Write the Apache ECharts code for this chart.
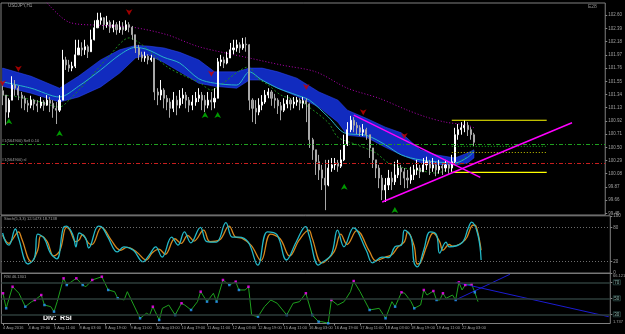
<!DOCTYPE html>
<html lang="en">

<head>
    <meta charset="UTF-8">
    <title>USDJPY,H1</title>
    <script src="https://cdn.jsdelivr.net/npm/echarts@6/dist/echarts.min.js"></script>
    <style>
        body { margin: 0; background: #000; }
        #main { width: 625px; height: 334px; }
    </style>
</head>

<body>
    <div id="main"></div>

    <script type="text/javascript">
        // time axis, one label every 8 bars (2h bars)
        var timeLabels = ['4 Aug 2016', '4 Aug 19:00', '5 Aug 11:00', '8 Aug 03:00', '8 Aug 19:00', '9 Aug 11:00',
            '10 Aug 03:00', '10 Aug 19:00', '11 Aug 11:00', '12 Aug 03:00', '12 Aug 19:00', '15 Aug 11:00',
            '16 Aug 03:00', '16 Aug 19:00', '17 Aug 11:00', '18 Aug 03:00', '18 Aug 19:00', '19 Aug 11:00', '22 Aug 03:00'];
        var barsPerLabel = 8;
        var slotCount = 191;

        var priceTicks = [99.45, 99.66, 99.87, 100.08, 100.29, 100.50, 100.71, 100.92, 101.13, 101.34,
            101.55, 101.76, 101.97, 102.18, 102.39, 102.60];

        var closes = [101.33, 101.06, 101.25, 101.49, 101.44, 101.33, 101.28, 101.20, 101.17, 101.25,
            101.19, 101.16, 101.22, 101.17, 101.25, 101.20, 101.12, 101.09, 101.25, 101.89,
            101.81, 101.76, 101.79, 101.97, 102.08, 102.05, 102.10, 102.02, 102.21, 102.40,
            102.52, 102.56, 102.45, 102.49, 102.40, 102.45, 102.37, 102.41, 102.37, 102.45,
            102.41, 102.29, 102.08, 101.97, 101.92, 101.95, 101.89, 101.92, 101.38, 101.33,
            101.41, 101.28, 101.22, 101.12, 101.25, 101.17, 101.28, 101.33, 101.25, 101.17,
            101.22, 101.28, 101.33, 101.25, 101.17, 101.25, 101.22, 101.28, 101.86, 101.89,
            101.84, 101.92, 102.05, 102.08, 102.13, 102.08, 102.14, 102.13, 101.25, 101.12,
            101.06, 101.17, 101.22, 101.33, 101.38, 101.28, 101.25, 101.16, 101.09, 101.19,
            101.25, 101.19, 101.22, 101.25, 101.20, 101.24, 101.19, 100.62, 100.46, 100.27,
            100.14, 100.01, 99.90, 100.17, 100.22, 100.25, 100.20, 100.30, 100.54, 100.78,
            100.93, 100.85, 100.81, 100.74, 100.78, 100.70, 100.49, 100.30, 100.17, 100.01,
            99.82, 99.90, 100.01, 99.95, 100.06, 100.17, 100.11, 100.01, 99.98, 100.06,
            100.14, 100.17, 100.11, 100.22, 100.27, 100.17, 100.22, 100.14, 100.20, 100.17,
            100.22, 100.17, 100.27, 100.70, 100.78, 100.81, 100.85, 100.78, 100.70, 100.58];
        var highs = [101.48, 101.33, 101.28, 101.63, 101.57, 101.48, 101.38, 101.32, 101.25, 101.32,
            101.27, 101.25, 101.30, 101.25, 101.33, 101.30, 101.25, 101.22, 101.33, 102.05,
            101.94, 101.89, 101.86, 102.21, 102.21, 102.17, 102.21, 102.13, 102.37, 102.52,
            102.64, 102.64, 102.57, 102.59, 102.52, 102.52, 102.49, 102.51, 102.49, 102.52,
            102.49, 102.43, 102.29, 102.13, 102.02, 102.02, 101.98, 101.97, 101.92, 101.44,
            101.57, 101.44, 101.33, 101.28, 101.38, 101.32, 101.41, 101.44, 101.38, 101.30,
            101.33, 101.38, 101.44, 101.38, 101.33, 101.38, 101.38, 101.44, 101.92, 101.97,
            101.94, 102.02, 102.16, 102.21, 102.21, 102.17, 102.24, 102.25, 102.14, 101.28,
            101.25, 101.28, 101.33, 101.41, 101.44, 101.41, 101.35, 101.28, 101.22, 101.28,
            101.33, 101.28, 101.30, 101.30, 101.28, 101.30, 101.28, 101.20, 100.65, 100.46,
            100.38, 100.22, 100.30, 100.30, 100.33, 100.33, 100.30, 100.46, 100.70, 100.90,
            101.00, 100.98, 100.90, 100.85, 100.87, 100.81, 100.70, 100.49, 100.30, 100.22,
            100.06, 100.01, 100.14, 100.11, 100.27, 100.30, 100.22, 100.17, 100.14, 100.19,
            100.22, 100.30, 100.22, 100.33, 100.35, 100.30, 100.33, 100.27, 100.30, 100.25,
            100.30, 100.25, 100.38, 100.81, 100.87, 100.90, 100.93, 100.90, 100.82, 100.73];
        var lows = [101.17, 100.85, 100.97, 101.25, 101.32, 101.25, 101.12, 101.09, 101.06, 101.12,
            101.09, 101.06, 101.12, 101.08, 101.16, 101.06, 100.97, 100.87, 101.06, 101.25,
            101.73, 101.70, 101.71, 101.76, 101.97, 101.95, 101.97, 101.92, 102.02, 102.20,
            102.40, 102.45, 102.37, 102.40, 102.32, 102.33, 102.29, 102.32, 102.29, 102.35,
            102.33, 102.21, 102.00, 101.89, 101.86, 101.86, 101.82, 101.86, 101.25, 101.17,
            101.25, 101.12, 101.09, 100.97, 101.06, 101.01, 101.12, 101.19, 101.12, 101.06,
            101.09, 101.16, 101.22, 101.09, 101.06, 101.12, 101.09, 101.12, 101.28, 101.79,
            101.76, 101.82, 101.92, 101.98, 102.02, 102.00, 102.05, 102.02, 101.09, 100.90,
            100.87, 101.01, 101.09, 101.19, 101.28, 101.16, 101.12, 101.03, 100.93, 101.06,
            101.12, 101.09, 101.12, 101.16, 101.09, 101.12, 100.90, 100.49, 100.30, 100.06,
            99.98, 99.82, 99.50, 99.88, 100.11, 100.14, 100.11, 100.17, 100.28, 100.52,
            100.74, 100.74, 100.71, 100.68, 100.68, 100.62, 100.33, 100.17, 100.01, 99.85,
            99.66, 99.63, 99.82, 99.82, 99.90, 100.01, 99.90, 99.85, 99.85, 99.92,
            99.98, 100.06, 100.01, 100.11, 100.14, 100.06, 100.11, 100.04, 100.08, 100.06,
            100.11, 100.08, 100.11, 100.22, 100.62, 100.70, 100.74, 100.68, 100.62, 100.52];
        var firstOpen = 101.40;

        // indicator lines on the price pane: [bar, price]
        var slowMa = [[14, 102.80], [21, 102.49], [31, 102.44], [41, 102.41], [52, 102.29], [62, 102.10],
            [78, 101.92], [88, 101.81], [99, 101.70], [109, 101.44], [119, 101.28], [128, 101.09],
            [134, 100.98], [140, 100.90], [147, 100.85], [149, 100.81]];
        var greenMa = [[0, 101.33], [5, 101.30], [12, 101.22], [18, 101.14], [21, 101.25], [27, 101.57],
            [34, 101.97], [40, 102.24], [43, 102.17], [46, 102.05], [52, 101.78], [59, 101.60], [62, 101.54],
            [66, 101.41], [68, 101.46], [78, 101.78], [80, 101.62], [84, 101.49], [88, 101.33], [93, 101.25],
            [96, 101.17], [103, 100.89], [106, 100.66], [112, 100.54], [118, 100.41], [122, 100.25],
            [127, 100.17], [131, 100.14], [137, 100.09], [143, 100.22], [149, 100.46]];
        var cyanLine = [[0, 101.54], [9, 101.44], [18, 101.30], [24, 101.47], [31, 101.73], [37, 101.97],
            [42, 102.09], [46, 102.05], [51, 101.93], [56, 101.84], [62, 101.59], [67, 101.52], [74, 101.49],
            [78, 101.70], [82, 101.57], [87, 101.44], [93, 101.33], [97, 101.25], [103, 100.98], [108, 100.73],
            [115, 100.69], [121, 100.54], [126, 100.38], [132, 100.30], [143, 100.25], [147, 100.34], [149, 100.43]];
        var bandTop = [[0, 101.76], [9, 101.63], [18, 101.44], [24, 101.63], [31, 101.89], [37, 102.05],
            [42, 102.12], [46, 102.11], [51, 102.08], [56, 102.01], [62, 101.89], [67, 101.70], [74, 101.70],
            [78, 101.76], [82, 101.76], [87, 101.70], [93, 101.60], [100, 101.38], [106, 101.25], [109, 101.09],
            [115, 100.96], [121, 100.82], [126, 100.73], [132, 100.46], [137, 100.38], [143, 100.33],
            [147, 100.41], [149, 100.46]];
        var bandBottom = [[0, 101.47], [9, 101.36], [18, 101.22], [24, 101.30], [31, 101.46], [37, 101.68],
            [42, 101.92], [46, 101.97], [51, 101.85], [56, 101.70], [62, 101.52], [67, 101.47], [74, 101.44],
            [78, 101.57], [82, 101.57], [87, 101.44], [93, 101.31], [100, 101.14], [106, 100.90], [109, 100.69],
            [115, 100.66], [121, 100.50], [126, 100.38], [132, 100.26], [137, 100.23], [143, 100.22],
            [147, 100.25], [149, 100.33]];

        var sellSignals = [[0, 101.47], [5, 101.70], [40, 102.60], [66, 101.62], [96, 101.41], [114, 101.01], [127, 100.63]];
        var buySignals = [[2, 100.96], [18, 100.77], [64, 101.06], [68, 101.06], [108, 99.92], [124, 99.55]];

        // objects drawn on the chart
        var sellPrice = 100.55, slPrice = 100.25, bidPrice = 100.52;
        var fibHigh = 100.93, fibLow = 100.10, fibFrom = 142, fibTo = 172;
        var fibLevels = [0, 50, 61.8, 100];
        var upperTrend = [[111, 101.01], [151, 100.02]];
        var lowerTrend = [[120, 99.63], [180, 100.89]];

        // stochastic
        var stochMain = [[0, 70], [1, 54], [2, 49], [4, 77], [5, 61], [8, 16], [10, 27], [11, 68], [13, 61], [15, 35],
            [17, 25], [19, 79], [20, 82], [22, 67], [23, 46], [24, 70], [26, 61], [27, 44], [30, 82], [31, 81],
            [33, 63], [36, 37], [38, 46], [41, 40], [44, 20], [46, 32], [48, 46], [50, 28], [53, 63], [55, 49],
            [57, 72], [59, 53], [62, 80], [64, 55], [67, 54], [70, 88], [72, 63], [74, 63], [77, 54], [80, 14],
            [83, 72], [86, 67], [89, 23], [92, 54], [95, 81], [96, 67], [99, 14], [100, 18], [103, 32], [105, 75],
            [107, 46], [110, 79], [114, 40], [116, 18], [119, 28], [121, 27], [123, 46], [125, 49], [126, 75],
            [128, 63], [129, 18], [130, 11], [132, 40], [134, 72], [136, 67], [137, 35], [139, 54], [140, 46],
            [144, 53], [146, 79], [147, 89], [149, 67], [150, 23]];
        var stochSignal = [[0, 66], [2, 52], [3, 58], [5, 72], [6, 60], [9, 20], [11, 40], [12, 65], [14, 55], [16, 30],
            [18, 40], [20, 80], [21, 76], [23, 55], [24, 58], [25, 67], [27, 52], [28, 50], [31, 80], [32, 76],
            [34, 58], [37, 40], [39, 45], [42, 37], [45, 23], [47, 36], [49, 42], [51, 33], [54, 60], [56, 52],
            [58, 66], [60, 56], [63, 75], [65, 55], [68, 58], [71, 82], [73, 63], [75, 61], [78, 48], [81, 22],
            [84, 68], [87, 60], [90, 30], [93, 58], [96, 75], [97, 62], [100, 18], [101, 20], [104, 38], [106, 68],
            [108, 50], [111, 74], [115, 38], [117, 22], [120, 28], [122, 32], [124, 46], [126, 55], [127, 72],
            [129, 48], [130, 16], [131, 18], [133, 48], [135, 70], [137, 55], [138, 40], [140, 50], [141, 47],
            [145, 58], [147, 82], [148, 84], [149, 70], [150, 40]];
        var stochLevels = [80, 20];

        // RSI
        var rsi = [[0, 56.3], [1, 37.5], [3, 64.5], [5, 56.3], [7, 39.5], [9, 45.8], [10, 47.9], [12, 54.1], [13, 41.6],
            [15, 39.5], [16, 33.3], [17, 45.8], [19, 75], [20, 66.6], [23, 75], [25, 66.6], [26, 64.5], [28, 72.9],
            [31, 77], [33, 60.4], [35, 58.3], [36, 50], [38, 47.9], [39, 58.3], [41, 41.6], [43, 25], [45, 31.3],
            [46, 29.1], [47, 39.5], [49, 22.9], [50, 37.5], [52, 41.6], [54, 29.1], [56, 43.8], [57, 41.6],
            [59, 35.4], [61, 45.8], [62, 58.3], [64, 45.8], [66, 56.3], [67, 45.8], [69, 72.9], [71, 66.6],
            [73, 70.8], [74, 60.4], [76, 60.4], [77, 64.5], [78, 29.1], [80, 27], [82, 39.5], [84, 47.9],
            [86, 43.8], [89, 29.1], [91, 43.8], [93, 45.8], [95, 56.3], [97, 29.1], [99, 20.8], [100, 20.8],
            [102, 18.8], [103, 47.9], [105, 41.6], [107, 45.8], [109, 58.3], [110, 71.6], [112, 58.3],
            [115, 35.4], [118, 37.5], [120, 25], [122, 45.8], [123, 39.5], [125, 57.5], [126, 56.3],
            [128, 45.8], [129, 37.5], [131, 41.6], [132, 60.4], [133, 54.1], [135, 59.1], [136, 47.9],
            [137, 47.9], [138, 56.3], [139, 50], [141, 54.1], [142, 47.9], [143, 70], [144, 60.4],
            [145, 66.6], [147, 67.5], [148, 57.5], [149, 45.8]];
        var rsiPeaks = [0, 3, 10, 12, 19, 23, 28, 31, 47, 56, 62, 69, 73, 77, 95, 103, 110, 125, 132, 135, 138, 143, 145, 147];
        var rsiTroughs = [1, 7, 13, 16, 20, 25, 33, 36, 43, 49, 54, 59, 64, 67, 71, 74, 80, 89, 97, 99, 102, 115, 120, 123, 129, 136, 142, 148];
        var rsiLevels = [70, 50, 30];
        var rsiTrendDown = [[142, 70], [190, 27]];
        var rsiTrendUp = [[142, 48], [159, 80]];

        // ---- build chart data ----
        var cats = [];
        for (var i = 0; i < slotCount; i++) cats.push(String(i));

        var candles = [];
        for (var i = 0; i < closes.length; i++) {
            var o = i === 0 ? firstOpen : closes[i - 1];
            candles.push([o, closes[i], lows[i], highs[i]]);
        }

        var rsiMap = {};
        rsi.forEach(function (p) { rsiMap[p[0]] = p[1]; });
        var peakDots = rsiPeaks.map(function (k) { return [k, rsiMap[k]]; });
        var troughDots = rsiTroughs.map(function (k) { return [k, rsiMap[k]]; });

        var txt = '#a0a0a0';
        var font = 'Liberation Sans';

        function showTick(idx) {
            return idx % barsPerLabel === 0 && idx / barsPerLabel < timeLabels.length;
        }

        function xAx(g, withLabels) {
            return {
                type: 'category', gridIndex: g, data: cats, boundaryGap: true,
                axisLine: { show: false },
                axisTick: { show: withLabels, interval: showTick, length: 2, alignWithLabel: true, lineStyle: { color: '#888' } },
                axisLabel: {
                    show: withLabels, interval: showTick, align: 'left', fontSize: 4, color: txt, margin: 2, fontFamily: font,
                    formatter: function (v, idx) { return timeLabels[idx / barsPerLabel] || ''; }
                },
                splitLine: { show: false }
            };
        }

        var gridStyle = { show: true, borderColor: '#808080', borderWidth: 1, backgroundColor: 'transparent' };

        var series = [];

        // blue band
        series.push({
            type: 'custom', xAxisIndex: 0, yAxisIndex: 0, z: 1, silent: true,
            data: [[0, 101]],
            renderItem: function (params, api) {
                var up = bandTop.map(function (p) { return api.coord(p); });
                var dn = bandBottom.map(function (p) { return api.coord(p); }).reverse();
                return {
                    type: 'polygon', shape: { points: up.concat(dn) },
                    style: { fill: '#1432e0', opacity: 0.85, stroke: '#2f4cff', lineWidth: 0.6 }
                };
            }
        });

        series.push({
            type: 'line', data: slowMa, xAxisIndex: 0, yAxisIndex: 0, symbol: 'none', smooth: 0.3, z: 2,
            lineStyle: { color: '#b400b4', width: 1, type: [1, 2] }
        });
        series.push({
            type: 'line', data: greenMa, xAxisIndex: 0, yAxisIndex: 0, symbol: 'none', smooth: 0.3, z: 2,
            lineStyle: { color: '#1e8c1e', width: 1, type: [2, 2] }
        });
        series.push({
            type: 'line', data: cyanLine, xAxisIndex: 0, yAxisIndex: 0, symbol: 'none', smooth: 0.3, z: 2,
            lineStyle: { color: '#28b4c8', width: 1 }
        });

        series.push({
            type: 'candlestick', data: candles, xAxisIndex: 0, yAxisIndex: 0, z: 3, barMaxWidth: 2,
            itemStyle: { color: '#ffffff', color0: '#8c8c8c', borderColor: '#ffffff', borderColor0: '#a8a8a8', borderWidth: 1 },
            markLine: {
                silent: true, symbol: ['none', 'none'], animation: false,
                label: { fontSize: 4, color: txt, fontFamily: font, distance: 1 },
                data: [
                    { yAxis: sellPrice, lineStyle: { color: '#1f9f1f', width: 1, type: [4, 2, 1, 2] },
                      label: { position: 'insideStartTop', formatter: '#1(564900) Sell 0.10' } },
                    { yAxis: slPrice, lineStyle: { color: '#c81e1e', width: 1, type: [4, 2, 1, 2] },
                      label: { position: 'insideStartTop', formatter: '#1(564900) sl' } },
                    { yAxis: bidPrice, lineStyle: { opacity: 0 },
                      label: { position: 'end', distance: 2, formatter: bidPrice.toFixed(2), color: '#000',
                               backgroundColor: '#cfcfcf', padding: [0, 2], fontSize: 4.5 } }
                ]
            }
        });

        // fibonacci
        fibLevels.forEach(function (lv) {
            var p = fibHigh - (fibHigh - fibLow) * lv / 100;
            var solid = lv === 0 || lv === 100;
            var col = lv === 50 ? '#19b419' : (solid ? '#ffff00' : '#c8c800');
            series.push({
                type: 'line', xAxisIndex: 0, yAxisIndex: 0, symbol: 'none', z: 4,
                lineStyle: { color: col, width: solid ? 1.2 : 1, type: solid ? 'solid' : [1, 2] },
                data: [[fibFrom, p], {
                    value: [fibTo, p],
                    label: { show: true, position: 'top', align: 'right', distance: 1, formatter: lv.toFixed(1) + '%',
                             fontSize: 4, color: lv === 50 ? '#8cd23c' : '#d2d232', fontFamily: font }
                }]
            });
        });

        [upperTrend, lowerTrend].forEach(function (t) {
            series.push({
                type: 'line', data: t, xAxisIndex: 0, yAxisIndex: 0, symbol: 'none', z: 5,
                lineStyle: { color: '#ff00ff', width: 1.4 }
            });
        });

        series.push({
            type: 'scatter', data: sellSignals, xAxisIndex: 0, yAxisIndex: 0, symbol: 'arrow', symbolSize: [5, 6],
            symbolRotate: 180, itemStyle: { color: '#c80000' }, z: 6
        });
        series.push({
            type: 'scatter', data: buySignals, xAxisIndex: 0, yAxisIndex: 0, symbol: 'arrow', symbolSize: [5, 6],
            itemStyle: { color: '#00c000' }, z: 6
        });

        // stochastic pane
        series.push({
            type: 'line', data: stochSignal, xAxisIndex: 1, yAxisIndex: 1, symbol: 'none', smooth: 0.4,
            lineStyle: { color: '#d7871e', width: 1.3 },
            markLine: {
                silent: true, symbol: ['none', 'none'], label: { show: false }, animation: false,
                lineStyle: { color: '#6e6e6e', width: 1, type: [1, 2] },
                data: stochLevels.map(function (v) { return { yAxis: v }; })
            }
        });
        series.push({
            type: 'line', data: stochMain, xAxisIndex: 1, yAxisIndex: 1, symbol: 'none', smooth: 0.4,
            lineStyle: { color: '#23b9c8', width: 1.3 }
        });

        // RSI pane
        series.push({
            type: 'line', data: rsi, xAxisIndex: 2, yAxisIndex: 2, symbol: 'none',
            lineStyle: { color: '#1ea01e', width: 1 },
            markLine: {
                silent: true, symbol: ['none', 'none'], label: { show: false }, animation: false,
                lineStyle: { color: '#2c3c3a', width: 1.5, type: 'solid' },
                data: rsiLevels.map(function (v) { return { yAxis: v }; })
            }
        });
        [rsiTrendDown, rsiTrendUp].forEach(function (t) {
            series.push({
                type: 'line', data: t, xAxisIndex: 2, yAxisIndex: 2, symbol: 'none', z: 3,
                lineStyle: { color: '#1c1cd2', width: 1 }
            });
        });
        series.push({
            type: 'scatter', data: peakDots, xAxisIndex: 2, yAxisIndex: 2, symbol: 'rect', symbolSize: 2.5,
            itemStyle: { color: '#ff00ff' }, z: 4
        });
        series.push({
            type: 'scatter', data: troughDots, xAxisIndex: 2, yAxisIndex: 2, symbol: 'rect', symbolSize: 2.5,
            itemStyle: { color: '#2896ff' }, z: 4
        });

        var myChart = echarts.init(document.getElementById('main'));

        myChart.setOption({
            backgroundColor: '#000000',
            animation: false,
            grid: [
                Object.assign({ left: 1, right: 14.7, top: 3, height: 212 }, gridStyle),
                Object.assign({ left: 1, right: 14.7, top: 215.8, height: 57.4 }, gridStyle),
                Object.assign({ left: 1, right: 14.7, top: 273.3, height: 50.2 }, gridStyle)
            ],
            xAxis: [xAx(0, false), xAx(1, false), xAx(2, true)],
            yAxis: [
                {
                    type: 'value', gridIndex: 0, position: 'right', min: 99.423, max: 102.795,
                    splitLine: { show: false }, axisLine: { show: false },
                    axisTick: { show: true, length: 2, customValues: priceTicks, lineStyle: { color: '#888' } },
                    axisLabel: { customValues: priceTicks, formatter: function (v) { return v.toFixed(2); },
                                 fontSize: 4.5, color: txt, margin: 3, fontFamily: font }
                },
                {
                    type: 'value', gridIndex: 1, position: 'right', min: 0, max: 100,
                    splitLine: { show: false }, axisLine: { show: false },
                    axisTick: { show: true, length: 2, customValues: [0, 20, 80, 100], lineStyle: { color: '#888' } },
                    axisLabel: { customValues: [0, 20, 80, 100], fontSize: 4.5, color: txt, margin: 3, fontFamily: font }
                },
                {
                    type: 'value', gridIndex: 2, position: 'right', min: 18.5, max: 81.25,
                    splitLine: { show: false }, axisLine: { show: false },
                    axisTick: { show: true, length: 2, customValues: rsiLevels, lineStyle: { color: '#888' } },
                    axisLabel: { customValues: rsiLevels, fontSize: 4.5, color: '#8fb8b0', margin: 3, fontFamily: font,
                                 borderColor: '#3d6460', borderWidth: 0.6, padding: [0, 1] }
                }
            ],
            graphic: [
                { type: 'text', left: 8, top: 3, style: { text: 'USDJPY,H1', fill: txt, font: '4.5px ' + font } },
                { type: 'text', left: 588, top: 4, style: { text: 'E28', fill: '#8a8a8a', font: '5px ' + font } },
                { type: 'text', left: 4, top: 217, style: { text: 'Stoch(5,3,3) 12.5473 18.7138', fill: txt, font: '4px ' + font } },
                { type: 'text', left: 4, top: 275, style: { text: 'RSI 46.1301', fill: txt, font: '4px ' + font } },
                { type: 'text', left: 613, top: 274, style: { text: '66.1213', fill: txt, font: '4px ' + font } },
                { type: 'text', left: 613, top: 320, style: { text: '1.737', fill: txt, font: '4px ' + font } },
                { type: 'text', left: 43, top: 315, style: { text: 'Div:  RSI', fill: '#ffffff', font: 'bold 7px ' + font } }
            ],
            series: series
        });
    </script>

</body>

</html>
